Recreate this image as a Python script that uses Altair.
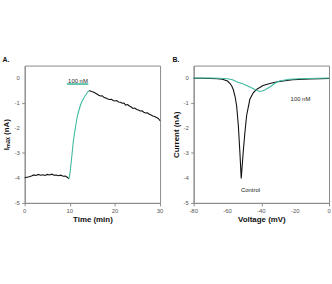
import altair as alt
import pandas as pd

# Panel A: peak current over time (black = before/after, teal = during 100 nM application)
pre_t = [0, 0.5, 1, 1.5, 2, 2.5, 3, 3.5, 4, 4.5, 5, 5.5, 6, 6.5, 7, 7.5, 8, 8.5, 9, 9.5, 9.8]
pre_i = [-3.99, -3.97, -3.95, -3.92, -3.88, -3.90, -3.86, -3.89, -3.87, -3.90, -3.86,
         -3.88, -3.85, -3.89, -3.88, -3.91, -3.89, -3.93, -3.92, -3.98, -4.04]

appl_t = [9.8, 10.0, 10.2, 10.4, 10.6, 10.8, 11.0, 11.2, 11.5, 11.7, 12.0, 12.3, 12.6,
          13.0, 13.3, 13.6, 14.0, 14.3]
appl_i = [-4.04, -3.85, -3.55, -3.20, -2.85, -2.50, -2.25, -2.03, -1.70, -1.50, -1.30,
          -1.12, -0.97, -0.83, -0.74, -0.66, -0.55, -0.50]

post_t = [14.3, 14.8, 15.2, 15.6, 16.0, 16.4, 16.8, 17.2, 17.6, 18.0, 18.4, 18.8, 19.2,
          19.6, 20.0, 20.4, 20.8, 21.2, 21.6, 22.0, 22.4, 22.8, 23.2, 23.6, 24.0, 24.4,
          24.8, 25.2, 25.6, 26.0, 26.4, 26.8, 27.2, 27.6, 28.0, 28.4, 28.8, 29.2, 29.6, 30.0]
post_i = [-0.50, -0.54, -0.56, -0.60, -0.64, -0.69, -0.72, -0.71, -0.78, -0.80, -0.84,
          -0.86, -0.85, -0.90, -0.92, -0.90, -0.96, -0.97, -1.01, -1.00, -1.08, -1.06,
          -1.12, -1.16, -1.22, -1.20, -1.26, -1.28, -1.32, -1.31, -1.37, -1.40, -1.39,
          -1.45, -1.48, -1.52, -1.54, -1.58, -1.62, -1.71]

# Application bar and its label
bar_start, bar_end, bar_level = 9.35, 14.1, -0.24
bar_label = "100 nM"
bar_label_t, bar_label_i = 11.8, -0.13

# Panel B: current-voltage traces
ctrl_v = [-80, -75, -70, -66, -63, -60, -58.5, -57.5, -56.6, -55.5, -54.6, -53.6, -52.7,
          -51.9, -51.2, -50.7, -49.7, -48.7, -46.8, -44.8, -42.9, -39, -35, -31.2, -25,
          -21.5, -15, -11.7, -5, 0]
ctrl_i = [-0.01, -0.01, -0.02, -0.03, -0.05, -0.12, -0.22, -0.32, -0.46, -0.75, -1.12,
          -1.90, -2.95, -4.02, -3.40, -2.95, -2.17, -1.50, -0.85, -0.59, -0.46, -0.30,
          -0.22, -0.16, -0.10, -0.07, -0.05, -0.04, -0.03, -0.02]

nm100_v = [-80, -75, -70, -65, -60, -57, -54.6, -52.5, -50.7, -48.7, -46.8, -45.3, -43.9,
           -42.4, -41, -39.5, -38, -36.5, -35, -33.5, -32.2, -30.7, -29.3, -26, -23.4,
           -18, -12, -6, 0]
nm100_i = [0.0, 0.0, 0.0, -0.01, -0.03, -0.07, -0.15, -0.20, -0.24, -0.30, -0.36, -0.41,
           -0.46, -0.50, -0.54, -0.52, -0.48, -0.42, -0.36, -0.29, -0.22, -0.16, -0.12,
           -0.08, -0.05, -0.03, -0.02, -0.01, 0.0]

curve_labels = ["100 nM", "Control"]
curve_label_v = [-16.9, -46.4]
curve_label_i = [-0.82, -4.49]

# Tick positions and their printed labels
current_ticks = [-5, -4, -3, -2, -1, 0]
current_tick_labels = ["-5", "-4", "-3", "-2", "-1", "0"]
time_ticks = [0, 10, 20, 30]
time_tick_labels = ["0", "10", "20", "30"]
volt_ticks = [-80, -60, -40, -20, 0]
volt_tick_labels = ["-80", "-60", "-40", "-20", "0"]

BLACK = "#111111"
TEAL = "#3fbaa0"
AXIS_GREY = "#8a8a8a"
LABEL_GREY = "#555555"
FONT = "Liberation Sans"

color_scale = alt.Scale(domain=["control", "drug"], range=[BLACK, TEAL])
y_scale = alt.Scale(domain=[-5, 0.5], nice=False, zero=False)


def axis(title, values, pad):
    # tick marks and title from the axis; tick numbers are drawn as text layers
    return alt.Axis(title=title, values=values, labels=False, titlePadding=pad)


def y_tick_text(ticks, labels, x_left):
    df = pd.DataFrame({"v": ticks, "lab": labels})
    return alt.Chart(df).mark_text(
        font=FONT, fontSize=6, color=LABEL_GREY, align="right", baseline="middle", dx=-5
    ).encode(x=alt.datum(x_left), y="v:Q", text="lab:N")


def x_tick_text(ticks, labels):
    df = pd.DataFrame({"v": ticks, "lab": labels})
    return alt.Chart(df).mark_text(
        font=FONT, fontSize=6, color=LABEL_GREY, align="center", baseline="top", dy=5
    ).encode(x="v:Q", y=alt.datum(-5), text="lab:N")


# ---- Panel A ----
time_df = pd.concat([
    pd.DataFrame({"t": pre_t, "i": pre_i, "seg": "pre", "cond": "control"}),
    pd.DataFrame({"t": appl_t, "i": appl_i, "seg": "drug", "cond": "drug"}),
    pd.DataFrame({"t": post_t, "i": post_i, "seg": "post", "cond": "control"}),
], ignore_index=True)
time_df["order"] = range(len(time_df))

trace_a = alt.Chart(time_df).mark_line(strokeWidth=1.1).encode(
    x=alt.X("t:Q", scale=alt.Scale(domain=[0, 30], nice=False),
            axis=axis("Time (min)", time_ticks, 9)),
    y=alt.Y("i:Q", scale=y_scale, axis=axis("Iₘₐₓ (nA)", current_ticks, 11)),
    color=alt.Color("cond:N", scale=color_scale, legend=None),
    detail="seg:N",
    order="order:Q",
)

bar_df = pd.DataFrame({"t": [bar_start], "t2": [bar_end], "i": [bar_level]})
bar = alt.Chart(bar_df).mark_rule(color=TEAL, strokeWidth=1.6).encode(
    x="t:Q", x2="t2:Q", y="i:Q"
)
bar_text_df = pd.DataFrame({"t": [bar_label_t], "i": [bar_label_i], "label": [bar_label]})
bar_text = alt.Chart(bar_text_df).mark_text(
    font=FONT, fontSize=6, color="#222222", baseline="middle", align="center"
).encode(x="t:Q", y="i:Q", text="label:N")

panel_a = alt.layer(
    trace_a, bar, bar_text,
    y_tick_text(current_ticks, current_tick_labels, 0),
    x_tick_text(time_ticks, time_tick_labels),
).properties(
    width=137, height=139,
    title=alt.TitleParams("A.", anchor="start", frame="bounds", fontSize=7,
                          fontWeight="bold", font=FONT, offset=3, color="#111111"),
)

# ---- Panel B ----
iv_df = pd.concat([
    pd.DataFrame({"v": ctrl_v, "i": ctrl_i, "cond": "control"}),
    pd.DataFrame({"v": nm100_v, "i": nm100_i, "cond": "drug"}),
], ignore_index=True)
iv_df["order"] = range(len(iv_df))

trace_b = alt.Chart(iv_df).mark_line(strokeWidth=1.1).encode(
    x=alt.X("v:Q", scale=alt.Scale(domain=[-80, 0], nice=False),
            axis=axis("Voltage (mV)", volt_ticks, 9)),
    y=alt.Y("i:Q", scale=y_scale, axis=axis("Current (nA)", current_ticks, 10)),
    color=alt.Color("cond:N", scale=color_scale, legend=None),
    detail="cond:N",
    order="order:Q",
)

lab_df = pd.DataFrame({"v": curve_label_v, "i": curve_label_i, "label": curve_labels})
labels_b = alt.Chart(lab_df).mark_text(
    font=FONT, fontSize=6, color="#222222", baseline="middle", align="center"
).encode(x="v:Q", y="i:Q", text="label:N")

panel_b = alt.layer(
    trace_b, labels_b,
    y_tick_text(current_ticks, current_tick_labels, -80),
    x_tick_text(volt_ticks, volt_tick_labels),
).properties(
    width=137, height=139,
    title=alt.TitleParams("B.", anchor="start", frame="bounds", fontSize=7,
                          fontWeight="bold", font=FONT, offset=3, color="#111111"),
)

chart = alt.hconcat(panel_a, panel_b, spacing=8).properties(
    padding={"left": 2, "top": 54, "right": 0, "bottom": 0},
    background="white",
).configure_view(
    stroke=AXIS_GREY, strokeWidth=1
).configure_axis(
    grid=False,
    domainColor=AXIS_GREY,
    tickColor=AXIS_GREY,
    tickSize=3,
    titleFont=FONT,
    titleFontSize=8,
    titleFontWeight="bold",
    titleColor="#111111",
)

chart.save("out.html", embed_options={"renderer": "svg", "actions": False})
